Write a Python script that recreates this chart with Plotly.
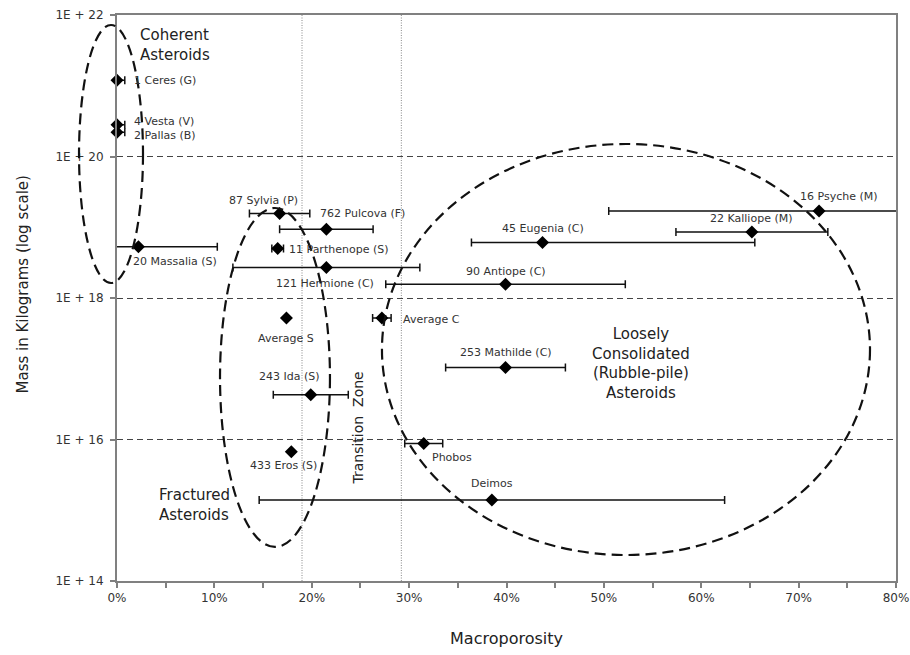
import math
import plotly.graph_objects as go

# Asteroid bulk data: macroporosity (%) and mass (kg) with porosity uncertainty
names = [
    "1 Ceres (G)", "4 Vesta (V)", "2 Pallas (B)", "20 Massalia (S)",
    "87 Sylvia (P)", "762 Pulcova (F)", "11 Parthenope (S)", "121 Hermione (C)",
    "Average S", "Average C", "243 Ida (S)", "433 Eros (S)", "Phobos", "Deimos",
    "253 Mathilde (C)", "90 Antiope (C)", "45 Eugenia (C)", "22 Kalliope (M)",
    "16 Psyche (M)",
]
porosity = [0.0, 0.0, 0.0, 2.2, 16.7, 21.5, 16.5, 21.5, 17.4, 27.2, 19.9, 17.9,
            31.5, 38.5, 39.9, 39.9, 43.7, 65.2, 72.1]
mass_kg = [1.2e21, 2.8e20, 2.2e20, 5.3e18, 1.57e19, 9.4e18, 5.0e18, 2.7e18,
           5.2e17, 5.2e17, 4.3e16, 6.7e15, 8.8e15, 1.4e15, 1.04e17, 1.56e18,
           6.1e18, 8.6e18, 1.7e19]
err_plus = [0.8, 0.8, 0.8, 8.1, 3.1, 4.8, 0.6, 9.6, 0.0, 0.95, 3.85, 0.0,
            1.95, 23.9, 6.15, 12.3, 21.8, 7.8, 21.6]
err_minus = [0.0, 0.0, 0.0, 2.7, 3.1, 4.8, 0.6, 9.6, 0.0, 0.95, 3.85, 0.0,
             1.95, 23.9, 6.15, 12.3, 7.3, 7.8, 21.6]

x_ticks = [0, 10, 20, 30, 40, 50, 60, 70, 80]
x_ticktext = [f"{v}%" for v in x_ticks]
y_ticks = [1e14, 1e16, 1e18, 1e20, 1e22]
y_ticktext = ["1E + 14", "1E + 16", "1E + 18", "1E + 20", "1E + 22"]

# Label placement for each body: (xanchor, xshift, yshift) in pixels
label_place = {
    "1 Ceres (G)": ("left", 15, 0),
    "4 Vesta (V)": ("left", 15, 3),
    "2 Pallas (B)": ("left", 15, -3),
    "20 Massalia (S)": ("left", -7, -15),
    "87 Sylvia (P)": ("center", -16, 13),
    "762 Pulcova (F)": ("left", -8, 16),
    "11 Parthenope (S)": ("left", 9, -1),
    "121 Hermione (C)": ("center", -1, -16),
    "Average S": ("center", 0, -20),
    "Average C": ("left", 19, -1),
    "243 Ida (S)": ("center", -21, 18),
    "433 Eros (S)": ("center", -8, -14),
    "Phobos": ("left", 6, -14),
    "Deimos": ("center", 0, 16),
    "253 Mathilde (C)": ("center", 0, 15),
    "90 Antiope (C)": ("center", 0, 13),
    "45 Eugenia (C)": ("center", 0, 14),
    "22 Kalliope (M)": ("center", -1, 13),
    "16 Psyche (M)": ("center", 20, 14),
}

FONT = "DejaVu Sans"
AXIS_GREY = "#808080"

fig = go.Figure()

# Bodies whose error bar runs past the right edge are clipped to the plot area
clipped = {"16 Psyche (M)"}
for clip in (False, True):
    idx = [i for i, n in enumerate(names) if (n in clipped) == clip]
    fig.add_trace(go.Scatter(
        x=[porosity[i] for i in idx],
        y=[mass_kg[i] for i in idx],
        mode="markers",
        marker=dict(symbol="diamond", size=10, color="#000000", line=dict(width=0)),
        error_x=dict(type="data", symmetric=False,
                     array=[err_plus[i] for i in idx],
                     arrayminus=[err_minus[i] for i in idx],
                     color="#111111", thickness=1.5, width=4),
        cliponaxis=clip,
        showlegend=False,
        hoverinfo="skip",
    ))

annotations = []
for n, x, m in zip(names, porosity, mass_kg):
    anchor, dx, dy = label_place[n]
    annotations.append(dict(
        x=x, y=math.log10(m), xref="x", yref="y", text=n, showarrow=False,
        xanchor=anchor, yanchor="middle", xshift=dx, yshift=dy,
        font=dict(family=FONT, size=11, color="#333333"),
    ))

# Group labels
group_text = [
    ("Coherent<br>Asteroids", 2.2, 21.583, "left", 0),
    ("Fractured<br>Asteroids", 4.1, 15.074, "left", 0),
    ("Loosely<br>Consolidated<br>(Rubble-pile)<br>Asteroids", 53.8, 17.081, "center", 0),
    ("Transition\u00a0\u00a0Zone", 24.75, 16.155, "center", -90),
]
for txt, gx, gy, anchor, ang in group_text:
    annotations.append(dict(
        x=gx, y=gy, xref="x", yref="y", text=txt, showarrow=False,
        xanchor=anchor, yanchor="middle", align=anchor if ang == 0 else "center",
        textangle=ang, font=dict(family=FONT, size=15 if ang == 0 else 14, color="#222222"),
    ))

# Vertical axis title, placed beside the tick labels
annotations.append(dict(
    x=-0.1213, y=0.523, xref="paper", yref="paper", text="Mass in Kilograms (log scale)",
    showarrow=False, textangle=-90, xanchor="center", yanchor="middle",
    font=dict(family=FONT, size=15, color="#222222"),
))

# Group outlines. The coherent group reaches past the y axis, so it is laid out
# in paper fractions (x: 0% .. 80%, y: 1E+14 .. 1E+22) to stay unclipped.
shapes = [
    dict(type="circle", xref="paper", yref="paper",
         x0=-3.9 / 80, x1=2.67 / 80, y0=(18.212 - 14) / 8, y1=(21.859 - 14) / 8),
    dict(type="circle", xref="x", yref="y",
         x0=10.58, x1=21.87, y0=10 ** 14.481, y1=10 ** 19.272),
    dict(type="circle", xref="x", yref="y",
         x0=27.21, x1=77.33, y0=10 ** 14.367, y1=10 ** 20.177),
]
for s in shapes:
    s["line"] = dict(color="#111111", width=2.2, dash="11px,6px")
    s["layer"] = "above"

# Transition zone boundaries
for bx in (19.0, 29.2):
    shapes.append(dict(type="line", xref="x", yref="paper", x0=bx, x1=bx, y0=0, y1=1,
                       line=dict(color="#888888", width=1, dash="1px,1.5px"),
                       layer="below"))

fig.update_layout(
    width=910, height=655,
    margin=dict(l=117, r=14, t=15, b=74, autoexpand=False),
    paper_bgcolor="white", plot_bgcolor="white",
    font=dict(family=FONT, color="#333333"),
    annotations=annotations,
    shapes=shapes,
    xaxis=dict(
        range=[0, 80], tickvals=x_ticks, ticktext=x_ticktext, automargin=False,
        showgrid=False, zeroline=False,
        showline=True, linecolor=AXIS_GREY, linewidth=2, mirror=True,
        ticks="outside", ticklen=5, tickwidth=1.5, tickcolor=AXIS_GREY,
        minor=dict(dtick=5, ticks="outside", ticklen=5, tickwidth=1.5, tickcolor=AXIS_GREY),
        tickfont=dict(family=FONT, size=12, color="#333333"),
        title=dict(text="Macroporosity", font=dict(family=FONT, size=16, color="#222222"),
                   standoff=28),
    ),
    yaxis=dict(
        type="log", range=[14, 22], tickvals=y_ticks, ticktext=y_ticktext, automargin=False,
        showgrid=True, gridcolor="#444444", gridwidth=1, griddash="6px,4px",
        zeroline=False,
        showline=True, linecolor=AXIS_GREY, linewidth=2, mirror=True,
        ticks="outside", ticklen=5, tickwidth=1.5, tickcolor=AXIS_GREY,
        ticklabelstandoff=4,
        tickfont=dict(family=FONT, size=12, color="#333333"),
    ),
)

fig.write_html("out.html")
